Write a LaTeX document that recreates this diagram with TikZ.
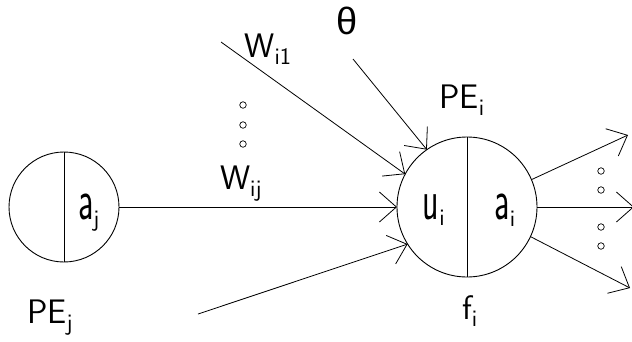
\documentclass[tikz,border=0pt]{standalone}
\usepackage{fontspec}
\newfontfamily\greekfont{Liberation Sans}
\usetikzlibrary{arrows.meta}
\newcommand{\tallch}[1]{\scalebox{1}[1.7]{#1}}
\tikzset{
  lbl/.style={font=\sffamily\fontsize{34}{34}\selectfont, inner sep=0pt},
  pe/.style={circle, draw, line width=0.9pt, inner sep=0pt, outer sep=0pt},
  link/.style={line width=0.8pt},
  arr/.style={link, -{Straight Barb[length=17pt,width=30pt]}},
  smalldot/.style={circle, draw, line width=0.7pt, minimum size=6.5pt, inner sep=0pt},
}
\begin{document}
\begin{tikzpicture}[x=1pt,y=-1pt]
\useasboundingbox (0,0) rectangle (632,341);
% processing elements
\node[pe, minimum size=110pt] (PEj) at (64,207) {};
\node[pe, minimum size=140pt] (PEi) at (467,207) {};
\draw[link] (PEj.north) -- (PEj.south);
\draw[link] (PEi.north) -- (PEi.south);
% free ends
\coordinate (s1) at (221,42);
\coordinate (st) at (353,59);
\coordinate (sb) at (198,314);
\coordinate (o1) at (628,135);
\coordinate (o2) at (634,207);
\coordinate (o3) at (630,288);
% connectors
\draw[arr] (s1) -- (PEi.152);
\draw[arr] (st) -- (PEi.125);
\draw[arr] (PEj.east) -- (PEi.west);
\draw[arr] (sb) -- (PEi.212);
\draw[arr] (PEi.23) -- (o1);
\draw[arr] (PEi.east) -- (o2);
\draw[arr] (PEi.-25) -- (o3);
% dots
\node[smalldot] (d1) at (243,105) {};
\node[smalldot] (d2) at (243,125) {};
\node[smalldot] (d3) at (243,144) {};
\node[smalldot] (d4) at (601,171) {};
\node[smalldot] (d5) at (601,190) {};
\node[smalldot] (d6) at (601,227) {};
\node[smalldot] (d7) at (601,246) {};
% labels
\node[inner sep=0pt, font=\greekfont\fontsize{38}{38}\selectfont] (theta) at (347,21) {θ};
\node[lbl] (w1) at (268,49) {W\textsubscript{i1}};
\node[lbl] (wj) at (241,184) {W\textsubscript{ij}};
\node[lbl] (PEilbl) at (462,100) {PE\textsubscript{i}};
\node[lbl] (PEjlbl) at (50,318) {PE\textsubscript{j}};
\node[lbl] (ui) at (434,210) {\tallch{u}\textsubscript{i}};
\node[lbl] (ai) at (505,210) {\tallch{a}\textsubscript{i}};
\node[lbl] (aj) at (89,213) {\tallch{a}\textsubscript{j}};
\node[lbl] (fi) at (470,311) {f\textsubscript{i}};
\end{tikzpicture}
\end{document}
